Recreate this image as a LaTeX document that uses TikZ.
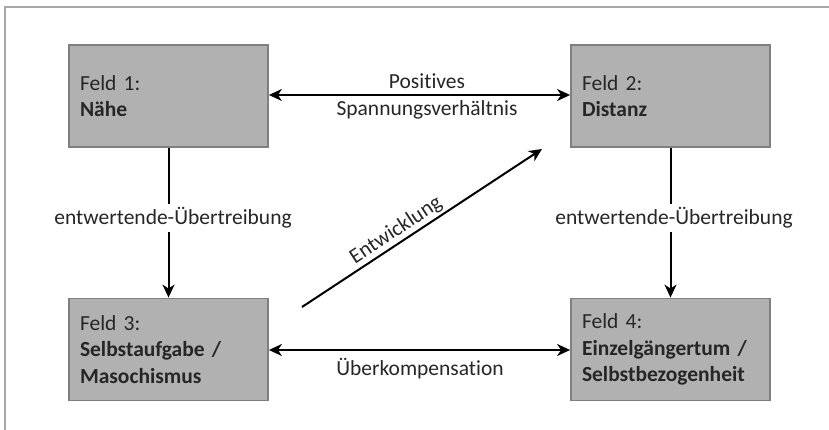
\documentclass[tikz,border=0pt]{standalone}
\usepackage{fontspec}
\setmainfont[Ligatures=NoCommon]{Carlito}
\usetikzlibrary{arrows.meta}
\definecolor{boxfill}{HTML}{B1B1B1}
\definecolor{boxline}{HTML}{7F7F7F}
\definecolor{framecol}{HTML}{A8A8A8}
\definecolor{txt}{HTML}{262626}
\tikzset{
  feld/.style={draw=boxline, line width=1.8pt, fill=boxfill, minimum width=199pt, minimum height=102pt,
    text width=177pt, align=left, inner sep=0pt, font=\fontsize{21.5pt}{26.5pt}\selectfont, text=txt},
  arr/.style={line width=2pt, -{Stealth[length=13pt,width=12pt,inset=4pt]}},
  biarr/.style={line width=2pt, {Stealth[length=13pt,width=12pt,inset=4pt]}-{Stealth[length=13pt,width=12pt,inset=4pt]}},
  lab/.style={font=\fontsize{21.5pt}{25pt}\selectfont, text=txt, inner sep=4pt}
}
\begin{document}
\begin{tikzpicture}[x=1pt,y=-1pt]
\useasboundingbox (0,0) rectangle (829,430);
\draw[framecol, line width=1.3pt] (5,430) -- (5,7) -- (829,7);
\node[feld] (f1) at (168.5,96) {Feld 1:\\\textbf{Nähe}};
\node[feld] (f2) at (670.5,96) {Feld 2:\\\textbf{Distanz}};
\node[feld] (f3) at (168.5,349.5) {Feld 3:\\\textbf{Selbstaufgabe /}\\\textbf{Masochismus}};
\node[feld] (f4) at (670.5,349.5) {Feld 4:\\\textbf{Einzelgängertum /}\\\textbf{Selbstbezogenheit}};
\draw[biarr] (f1.east |- 0,95) -- (f2.west |- 0,95);
\node[lab] (pos) at (427,81) {Positives};
\node[lab] (span) at (427,110) {Spannungsverhältnis};
\draw[arr] (f1) -- (f3);
\node[lab, fill=white] (l13) at (173,218) {entwertende-Übertreibung};
\draw[arr] (f2) -- (f4);
\node[lab, fill=white] (l24) at (674,218) {entwertende-Übertreibung};
\draw[biarr] (f3.east |- 0,350) -- (f4.west |- 0,350);
\node[lab] (ueb) at (420,369) {Überkompensation};
\coordinate (ds) at (302,307);
\coordinate (de) at (542,149);
\draw[arr] (ds) -- node[lab, sloped, above, inner sep=2pt, pos=0.42] (ent) {Entwicklung} (de);
\end{tikzpicture}
\end{document}
